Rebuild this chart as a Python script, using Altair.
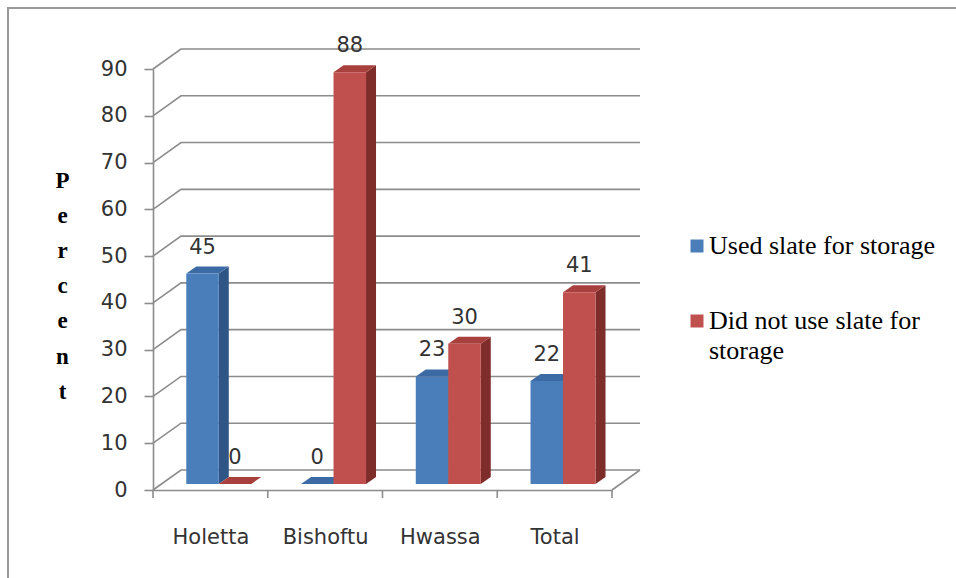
import json
import altair as alt
import pandas as pd

# ---------------- data ----------------
categories = ["Holetta", "Bishoftu", "Hwassa", "Total"]
series = ["Used slate for storage", "Did not use slate for storage"]
used = [45, 0, 23, 22]
not_used = [0, 88, 30, 41]
y_ticks = [0, 10, 20, 30, 40, 50, 60, 70, 80, 90]
legend_lines = [["Used slate for storage"], ["Did not use slate for", "storage"]]
axis_title = ["P", "e", "r", "c", "e", "n", "t"]

# ---------------- style ----------------
front_col = ["#4a7ebb", "#c0504d"]
side_col = ["#2e5586", "#7f2d2b"]
top_col = ["#3c6aa5", "#a8413e"]
grid_col = "#8c8c8c"
text_col = "#333333"

W_PX, H_PX = 459, 421
X_MAX, Y_MAX = 4, 90
ux = W_PX / X_MAX          # px per category unit
uy = H_PX / Y_MAX          # px per percent
DX, DY = 28 / ux, 20 / uy  # wall depth
BX, BY = 8.4 / ux, 6 / uy  # bar depth position
BW = 32.5 / ux             # bar width
SX, SY = 10 / ux, 7 / uy   # bar side depth

values = [used, not_used]

front, side, top = [], [], []
for i, cat in enumerate(categories):
    for s in range(2):
        v = values[s][i]
        bid = f"b{i}{s}"
        x0 = i + 0.5 + BX + (s - 1) * BW
        x1 = x0 + BW
        y0, y1 = BY, BY + v
        front.append(dict(bar=bid, x0=x0, x1=x1, y0=y0, y1=y1, fill=front_col[s],
                          xc=(x0 + x1) / 2, val=v))
        side.append(dict(bar=bid, sx=x1, syb=y0, syt=y1, fill=side_col[s]))
        side.append(dict(bar=bid, sx=x1 + SX, syb=y0 + SY, syt=y1 + SY, fill=side_col[s]))
        top.append(dict(bar=bid, ty=y1, txa=x0, txb=x1, fill=top_col[s]))
        top.append(dict(bar=bid, ty=y1 + SY, txa=x0 + SX, txb=x1 + SX, fill=top_col[s]))

grid = []
for v in y_ticks:
    grid.append(dict(g=str(v), o=0, gx=0, gy=v))
    grid.append(dict(g=str(v), o=1, gx=DX, gy=v + DY))
    grid.append(dict(g=str(v), o=2, gx=X_MAX + DX, gy=v + DY))
grid.append(dict(g="floor", o=0, gx=X_MAX, gy=0))
grid.append(dict(g="floor", o=1, gx=X_MAX + DX, gy=DY))

bounds = pd.DataFrame(dict(b=list(range(len(categories) + 1))))

df_front = pd.DataFrame(front)
df_side = pd.DataFrame(side)
df_top = pd.DataFrame(top)
df_grid = pd.DataFrame(grid)

xs = alt.Scale(domain=[0, X_MAX], nice=False, zero=False)
ys = alt.Scale(domain=[0, Y_MAX], nice=False, zero=False)

label_expr = f"{json.dumps(categories)}[floor(datum.value)]"

AX = alt.Axis(
    values=[i + 0.5 for i in range(len(categories))], labelExpr=label_expr,
    ticks=False, grid=False, domainColor=grid_col, domainWidth=1.6,
    labelFont="DejaVu Sans", labelFontSize=21, labelColor=text_col,
    labelPadding=36, title=None, zindex=1)

AY = alt.Axis(
    values=y_ticks, grid=False, domainColor=grid_col, domainWidth=1.6,
    tickColor=grid_col, tickWidth=1.6, tickSize=9,
    labelFont="DejaVu Sans", labelFontSize=21, labelColor=text_col, labelPadding=17,
    title=axis_title, titleAngle=0, titleX=-91, titleY=100, titleAlign="center",
    titleBaseline="top", titleFont="Liberation Serif", titleFontWeight="bold",
    titleFontSize=23, titleLineHeight=35.2, titleColor="#000000", zindex=1)


def X(f, **kw):
    return alt.X(f, scale=xs, axis=AX, **kw)


def Y(f, **kw):
    return alt.Y(f, scale=ys, axis=AY, **kw)


fill_enc = alt.Color("fill:N", scale=None, legend=None)

border = alt.Chart(pd.DataFrame({"a": [0]})).mark_rect(
    fillOpacity=0, stroke="#9a9a9a", strokeWidth=2
).encode(x=alt.value(-145), x2=alt.value(807), y=alt.value(-61), y2=alt.value(513))

grid_layer = alt.Chart(df_grid).mark_line(color=grid_col, strokeWidth=1.6).encode(
    x=X("gx:Q"), y=Y("gy:Q"), detail="g:N", order="o:Q"
)

ticks_layer = alt.Chart(bounds).mark_rule(color=grid_col, strokeWidth=1.6).encode(
    x=X("b:Q"), y=alt.value(H_PX), y2=alt.value(H_PX + 8)
)

side_layer = alt.Chart(df_side).mark_area(opacity=1).encode(
    x=X("sx:Q"), y=Y("syb:Q", stack=None), y2="syt:Q",
    detail="bar:N", color=fill_enc
)

top_layer = alt.Chart(df_top).mark_area(orient="horizontal", opacity=1).encode(
    y=Y("ty:Q"), x=X("txa:Q", stack=None), x2="txb:Q",
    detail="bar:N", color=fill_enc
)

front_layer = alt.Chart(df_front).mark_rect().encode(
    x=X("x0:Q"), x2="x1:Q", y=Y("y0:Q"), y2="y1:Q", color=fill_enc,
)

text_layer = alt.Chart(df_front).mark_text(
    font="DejaVu Sans", fontSize=21, color=text_col, baseline="middle", dy=-26
).encode(x=X("xc:Q"), y=Y("y1:Q"), text="val:Q")

legend_layers = []
for i, s in enumerate(series):
    d = pd.DataFrame({"series": [s]})
    legend_layers.append(
        alt.Chart(d).mark_square(size=169, opacity=1, color=front_col[i]).encode(
            x=alt.value(544), y=alt.value(177 + 75 * i))
    )
    legend_layers.append(
        alt.Chart(d).mark_text(
            align="left", baseline="top", font="Liberation Serif", fontSize=26,
            lineHeight=30, color="#000000", text=legend_lines[i]
        ).encode(x=alt.value(556), y=alt.value(164 + 75 * i))
    )

chart = alt.layer(
    border, grid_layer, ticks_layer, side_layer, top_layer, front_layer, text_layer,
    *legend_layers
).properties(
    width=W_PX, height=H_PX,
    background="white",
    autosize=alt.AutoSizeParams(type="none"),
    padding={"left": 153, "top": 69, "right": 344, "bottom": 88},
).configure_view(stroke=None)

chart.save("out.html", embed_options={"renderer": "svg", "actions": False})
